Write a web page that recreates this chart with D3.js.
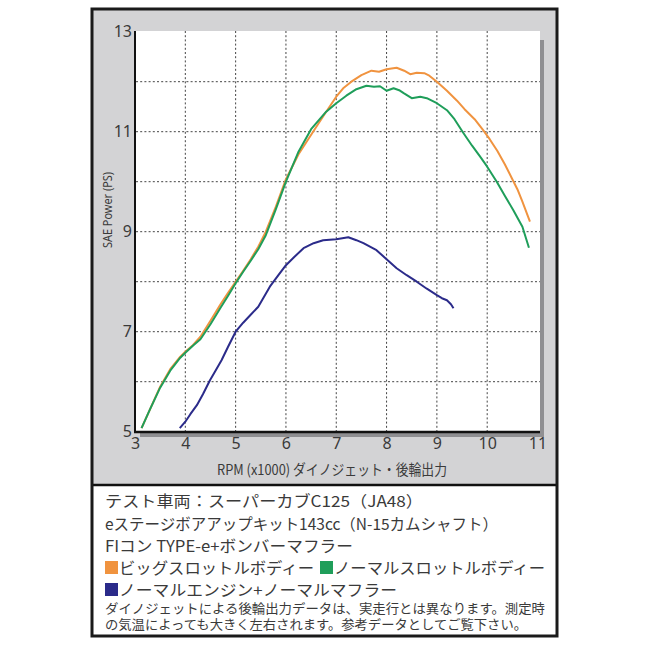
<!DOCTYPE html>
<html>
<head>
<meta charset="utf-8">
<script src="https://cdn.jsdelivr.net/npm/d3@7"></script>
<style>
  body { margin: 0; background: #fff; }
  svg text { font-family: "Noto Sans CJK JP", "Noto Sans", sans-serif; fill: #3a3a3a; }
  .tick text { font-family: "Noto Sans", sans-serif; font-size: 16px; fill: #3a3a3a; }
</style>
</head>
<body>
<svg id="chart" width="650" height="650"></svg>
<script>
// --- data (rpm x1000, PS) ---
const bigThrottle = [[3.13,5.07],[3.3,5.45],[3.5,5.9],[3.7,6.25],[3.9,6.5],[4.0,6.6],[4.15,6.73],[4.3,6.9],[4.5,7.22],[4.7,7.55],[4.85,7.78],[5.0,8.0],[5.15,8.22],[5.3,8.45],[5.45,8.7],[5.6,9.0],[5.8,9.5],[6.0,10.05],[6.25,10.55],[6.54,11.0],[6.8,11.4],[7.0,11.7],[7.15,11.88],[7.3,12.0],[7.5,12.13],[7.7,12.22],[7.85,12.2],[8.0,12.25],[8.2,12.28],[8.35,12.22],[8.47,12.15],[8.6,12.18],[8.75,12.17],[8.85,12.12],[9.0,12.0],[9.2,11.82],[9.4,11.62],[9.55,11.45],[9.75,11.25],[9.92,11.03],[10.05,10.85],[10.2,10.62],[10.35,10.35],[10.5,10.05],[10.6,9.85],[10.7,9.6],[10.85,9.2]];
const normalThrottle = [[3.13,5.07],[3.3,5.45],[3.5,5.88],[3.7,6.22],[3.9,6.48],[4.0,6.58],[4.15,6.72],[4.3,6.85],[4.5,7.15],[4.7,7.48],[4.85,7.72],[5.0,7.97],[5.15,8.2],[5.3,8.42],[5.45,8.65],[5.6,8.93],[5.8,9.45],[6.0,10.0],[6.25,10.6],[6.5,11.05],[6.8,11.4],[7.0,11.57],[7.2,11.72],[7.4,11.85],[7.6,11.92],[7.75,11.9],[7.87,11.91],[8.0,11.82],[8.14,11.87],[8.25,11.83],[8.34,11.77],[8.5,11.67],[8.67,11.7],[8.8,11.67],[9.0,11.57],[9.2,11.43],[9.35,11.25],[9.53,10.97],[9.7,10.72],[9.86,10.5],[10.0,10.3],[10.19,10.0],[10.35,9.72],[10.52,9.43],[10.7,9.1],[10.83,8.68]];
const normalEngine = [[3.89,5.07],[4.0,5.2],[4.1,5.35],[4.23,5.53],[4.35,5.75],[4.49,6.03],[4.6,6.22],[4.72,6.43],[4.85,6.7],[5.0,7.0],[5.15,7.18],[5.29,7.33],[5.45,7.5],[5.68,7.9],[5.85,8.13],[6.0,8.33],[6.15,8.48],[6.35,8.67],[6.55,8.77],[6.74,8.83],[7.0,8.85],[7.24,8.89],[7.4,8.83],[7.54,8.77],[7.67,8.7],[7.8,8.63],[8.0,8.45],[8.2,8.27],[8.4,8.13],[8.6,8.0],[8.8,7.86],[9.0,7.73],[9.1,7.67],[9.2,7.63],[9.28,7.55],[9.33,7.47]];

const xTicks = [3,4,5,6,7,8,9,10,11];
const yTicks = [5,7,9,11,13];
const xGrid = [4,5,6,7,8,9,10];
const yGrid = [6,7,8,9,10,11,12];

const series = [
  {name: "ビッグスロットルボディー", color: "#f0933f", values: bigThrottle},
  {name: "ノーマルスロットルボディー", color: "#1f9e5a", values: normalThrottle},
  {name: "ノーマルエンジン+ノーマルマフラー", color: "#2b2b8a", values: normalEngine}
];

const noteLines = [
  "テスト車両：スーパーカブC125（JA48）",
  "eステージボアアップキット143cc（N-15カムシャフト）",
  "FIコン TYPE-e+ボンバーマフラー"
];
const footLines = [
  "ダイノジェットによる後輪出力データは、実走行とは異なります。測定時",
  "の気温によっても大きく左右されます。参考データとしてご覧下さい。"
];

const svg = d3.select("#chart");

// frame
svg.append("rect").attr("x", 92).attr("y", 9).attr("width", 465).attr("height", 476)
  .attr("fill", "#d3d3d5");
svg.append("line").attr("x1", 92).attr("x2", 557).attr("y1", 485).attr("y2", 485)
  .attr("stroke", "#111").attr("stroke-width", 2.5);
svg.append("rect").attr("x", 92).attr("y", 9).attr("width", 465).attr("height", 627)
  .attr("fill", "none").attr("stroke", "#1a1a1a").attr("stroke-width", 3);

const x = d3.scaleLinear().domain([3, 11]).range([135, 537.5]);
const y = d3.scaleLinear().domain([5, 13]).range([431.7, 31.7]);

// plot area + shadow
svg.append("rect").attr("x", 540).attr("y", 40).attr("width", 4).attr("height", 397).attr("fill", "#8f8f92");
svg.append("rect").attr("x", 140).attr("y", 433).attr("width", 404).attr("height", 4).attr("fill", "#8f8f92");
svg.append("rect").attr("x", 135).attr("y", 31).attr("width", 405).attr("height", 401).attr("fill", "#fff");

// grid
svg.append("g").selectAll("line").data(xGrid).join("line")
  .attr("x1", d => x(d)).attr("x2", d => x(d)).attr("y1", 31).attr("y2", 431)
  .attr("stroke", "#444").attr("stroke-width", 1).attr("stroke-dasharray", "2,2.2");
svg.append("g").selectAll("line").data(yGrid).join("line")
  .attr("x1", 136).attr("x2", 540).attr("y1", d => y(d)).attr("y2", d => y(d))
  .attr("stroke", "#444").attr("stroke-width", 1).attr("stroke-dasharray", "2,2.2");

// curves
const line = d3.line().x(d => x(d[0])).y(d => y(d[1])).curve(d3.curveLinear);
svg.append("g").selectAll("path").data(series).join("path")
  .attr("d", d => line(d.values))
  .attr("fill", "none").attr("stroke", d => d.color).attr("stroke-width", 2)
  .attr("stroke-linejoin", "round");

// axes lines
svg.append("line").attr("x1", 135).attr("x2", 135).attr("y1", 31).attr("y2", 433)
  .attr("stroke", "#111").attr("stroke-width", 2);
svg.append("line").attr("x1", 134).attr("x2", 540).attr("y1", 432).attr("y2", 432)
  .attr("stroke", "#111").attr("stroke-width", 2.5);

// tick labels
const xAxis = svg.append("g").attr("transform", "translate(0,432)")
  .call(d3.axisBottom(x).tickValues(xTicks).tickSize(0).tickPadding(6).tickFormat(d3.format("d")));
xAxis.select(".domain").remove();
const yAxis = svg.append("g").attr("transform", "translate(132,0)")
  .call(d3.axisLeft(y).tickValues(yTicks).tickSize(0).tickPadding(0).tickFormat(d3.format("d")));
yAxis.select(".domain").remove();

// axis titles
svg.append("text").attr("transform", "translate(112,210) rotate(-90)")
  .attr("text-anchor", "middle").attr("font-size", 13).style("font-family", "'Noto Sans', sans-serif")
  .attr("textLength", 76).attr("lengthAdjust", "spacingAndGlyphs")
  .text("SAE Power (PS)");
svg.append("text").attr("x", 332).attr("y", 475).attr("text-anchor", "middle")
  .attr("font-size", 14.5).attr("textLength", 230).attr("lengthAdjust", "spacingAndGlyphs")
  .text("RPM (x1000) ダイノジェット・後輪出力");

// notes
const noteWidths = [318, 393, 248];
svg.append("g").selectAll("text").data(noteLines).join("text")
  .attr("x", 105).attr("y", (d, i) => 507 + i * 22.5)
  .attr("font-size", 15.5)
  .attr("textLength", (d, i) => noteWidths[i]).attr("lengthAdjust", "spacingAndGlyphs")
  .text(d => d);

// legend
const leg = [
  {s: series[0], x: 105, y: 574, w: 195},
  {s: series[1], x: 320, y: 574, w: 211},
  {s: series[2], x: 105, y: 596, w: 278}
];
const lg = svg.append("g").selectAll("g").data(leg).join("g")
  .attr("transform", d => `translate(${d.x},${d.y})`);
lg.append("rect").attr("x", 0).attr("y", -13).attr("width", 13).attr("height", 13)
  .attr("fill", d => d.s.color);
lg.append("text").attr("x", 14).attr("y", 0).attr("font-size", 15.5)
  .attr("textLength", d => d.w).attr("lengthAdjust", "spacingAndGlyphs")
  .text(d => d.s.name);

const footWidths = [440, 422];
svg.append("g").selectAll("text").data(footLines).join("text")
  .attr("x", 105).attr("y", (d, i) => 613 + i * 16)
  .attr("font-size", 13)
  .attr("textLength", (d, i) => footWidths[i]).attr("lengthAdjust", "spacingAndGlyphs")
  .text(d => d);
</script>
</body>
</html>
